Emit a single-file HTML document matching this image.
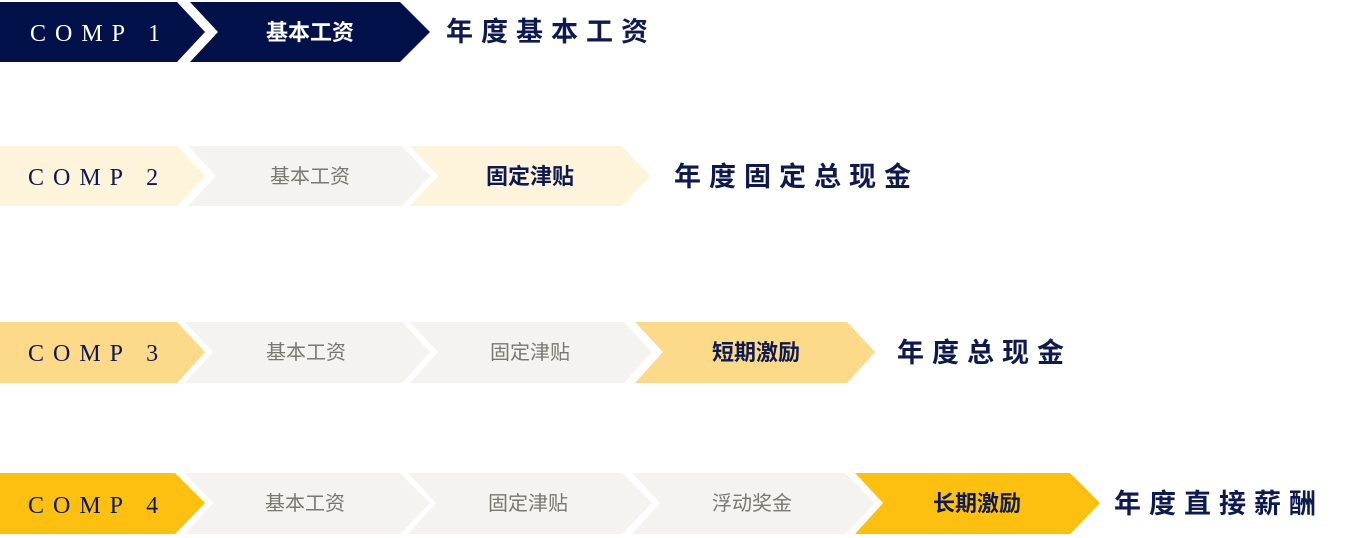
<!DOCTYPE html>
<html><head><meta charset="utf-8"><style>
html,body{margin:0;padding:0;background:#fff;}
svg{display:block}
.comp{font-family:"Liberation Serif",serif;font-size:24px;letter-spacing:9px}
.lab{font-family:"Liberation Sans","Noto Sans CJK SC",sans-serif;font-size:22px;font-weight:bold}
.gl{font-family:"Liberation Sans","Noto Sans CJK SC",sans-serif;font-size:20px;fill:#7a7670}
.tt{font-family:"Liberation Sans","Noto Sans CJK SC",sans-serif;font-size:27px;font-weight:bold;fill:#0e1a4f;letter-spacing:8px}
</style></head><body>
<svg width="1365" height="538" viewBox="0 0 1365 538">
<polygon points="0,2 177,2 205,32 177,62 0,62" fill="#021149"/>
<polygon points="190,2 400,2 430,32 400,62 190,62 218,32" fill="#021149"/>
<text class="comp" x="30" y="41" fill="#fff">COMP 1</text>
<text class="lab" x="310" y="40" fill="#fff" text-anchor="middle">基本工资</text>
<text class="tt" x="446" y="41">年度基本工资</text>
<polygon points="0,146 177,146 205,176 177,206 0,206" fill="#fef4dc"/>
<polygon points="188,146 402,146 430,176 402,206 188,206 216,176" fill="#f5f3ef"/>
<polygon points="410,146 622,146 650,176 622,206 410,206 438,176" fill="#fef4dc"/>
<text class="comp" x="28" y="185" fill="#0e1a4f">COMP 2</text>
<text class="gl" x="310" y="183" text-anchor="middle">基本工资</text>
<text class="lab" x="530" y="184" fill="#0e1a4f" text-anchor="middle">固定津贴</text>
<text class="tt" x="674" y="186">年度固定总现金</text>
<polygon points="0,322 177,322 205,352 177,383 0,383" fill="#fdd98a"/>
<polygon points="185,322 402,322 430,352 402,383 185,383 213,352" fill="#f5f3ef"/>
<polygon points="410,322 624,322 652,352 624,383 410,383 438,352" fill="#f5f3ef"/>
<polygon points="635,322 847,322 875,352 847,383 635,383 663,352" fill="#fdd98a"/>
<text class="comp" x="28" y="361" fill="#0e1a4f">COMP 3</text>
<text class="gl" x="306" y="359" text-anchor="middle">基本工资</text>
<text class="gl" x="530" y="359" text-anchor="middle">固定津贴</text>
<text class="lab" x="756" y="360" fill="#0e1a4f" text-anchor="middle">短期激励</text>
<text class="tt" x="897" y="362">年度总现金</text>
<polygon points="0,473 175,473 205,503 175,534 0,534" fill="#fdc010"/>
<polygon points="185,473 400,473 430,503 400,534 185,534 213,503" fill="#f5f3ef"/>
<polygon points="408,473 622,473 652,503 622,534 408,534 436,503" fill="#f5f3ef"/>
<polygon points="632,473 845,473 875,503 845,534 632,534 660,503" fill="#f5f3ef"/>
<polygon points="855,473 1070,473 1100,503 1070,534 855,534 883,503" fill="#fdc010"/>
<text class="comp" x="28" y="513" fill="#0e1a4f">COMP 4</text>
<text class="gl" x="305" y="510" text-anchor="middle">基本工资</text>
<text class="gl" x="528" y="510" text-anchor="middle">固定津贴</text>
<text class="gl" x="752" y="510" text-anchor="middle">浮动奖金</text>
<text class="lab" x="977" y="511" fill="#0e1a4f" text-anchor="middle">长期激励</text>
<text class="tt" x="1114" y="513">年度直接薪酬</text>
</svg>
</body></html>
